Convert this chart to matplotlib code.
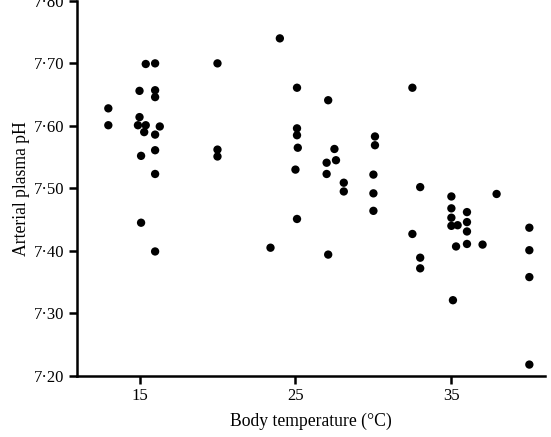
import matplotlib
matplotlib.use("Agg")
import matplotlib.pyplot as plt
from matplotlib.ticker import FuncFormatter

# temperatura corporal (°C) y pH del plasma arterial
temp = [13.0, 13.0,
        15.0, 15.4, 16.0, 16.0, 16.0, 15.0, 14.9, 15.4, 15.3, 16.0, 16.3,
        16.0, 15.1, 16.0, 15.1, 16.0,
        20.0, 20.0, 20.0,
        24.0, 23.4,
        25.1, 25.1, 25.1, 25.15, 25.0, 25.1,
        27.1, 27.5, 27.0, 27.6, 27.0, 28.1, 28.1, 27.1,
        30.1, 30.1, 30.0, 30.0, 30.0,
        32.5, 32.5, 33.0, 33.0, 33.0,
        35.0, 35.0, 35.0, 35.0, 35.4, 35.3, 35.1,
        36.0, 36.0, 36.0, 36.0, 37.0, 37.9,
        40.0, 40.0, 40.0, 40.0]
ph = [7.628, 7.601,
      7.656, 7.699, 7.700, 7.657, 7.646, 7.614, 7.601, 7.601, 7.590, 7.586, 7.599,
      7.561, 7.552, 7.523, 7.445, 7.399,
      7.700, 7.562, 7.551,
      7.740, 7.405,
      7.661, 7.596, 7.585, 7.565, 7.530, 7.451,
      7.641, 7.563, 7.541, 7.545, 7.523, 7.509, 7.495, 7.394,
      7.583, 7.569, 7.522, 7.492, 7.464,
      7.661, 7.427, 7.502, 7.389, 7.372,
      7.487, 7.468, 7.453, 7.440, 7.441, 7.407, 7.321,
      7.462, 7.446, 7.431, 7.411, 7.410, 7.491,
      7.437, 7.401, 7.358, 7.218]

xticks = [15, 25, 35]
yticks = [7.2, 7.3, 7.4, 7.5, 7.6, 7.7, 7.8]

plt.rcParams["font.family"] = ["Liberation Serif", "DejaVu Serif"]

fig = plt.figure(figsize=(5.51, 4.37), dpi=100)
ax = fig.add_axes([0.14, 0.14, 0.849, 0.858])

ax.scatter(temp, ph, s=36, color="black", edgecolors="none", zorder=3)

ax.set_xlim(11.0, 41.0)
ax.set_ylim(7.2, 7.8)
ax.set_xticks(xticks)
ax.set_yticks(yticks)
ax.yaxis.set_major_formatter(FuncFormatter(lambda v, p: f"{v:.2f}".replace(".", "\u00b7")))

for lado in ["top", "right"]:
    ax.spines[lado].set_visible(False)
for lado in ["left", "bottom"]:
    ax.spines[lado].set_linewidth(1.8)
ax.tick_params(width=1.8, length=6, labelsize=12, pad=3)

ax.set_xlabel("Body temperature (\u00b0C)", fontsize=12.7, labelpad=6)
ax.set_ylabel("Arterial plasma pH", fontsize=12.7, labelpad=3)

fig.savefig("out.png", dpi=100)
